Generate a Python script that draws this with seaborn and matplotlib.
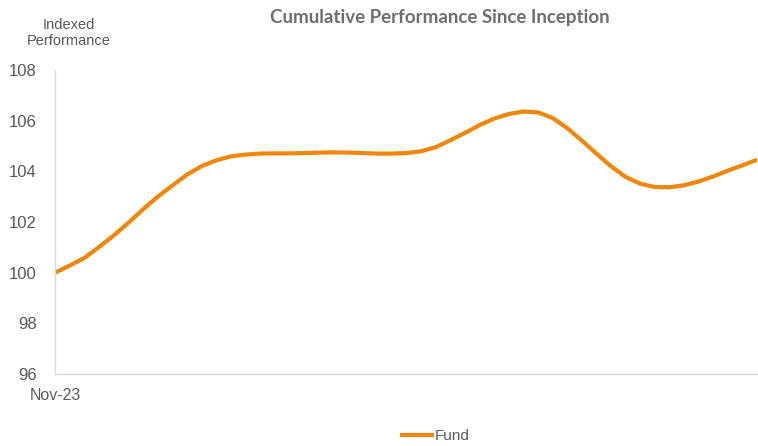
import pandas as pd
import seaborn as sns
import matplotlib.pyplot as plt
import matplotlib.dates as mdates

# Values (roughly weekly, from Nov-23)
dates = pd.date_range('2023-11-01', '2024-11-01', periods=49)
fund = [100.00, 100.28, 100.58, 101.01, 101.46, 101.96, 102.49, 102.99,
        103.43, 103.86, 104.20, 104.43, 104.59, 104.66, 104.70, 104.71,
        104.71, 104.72, 104.74, 104.75, 104.74, 104.72, 104.70, 104.70,
        104.72, 104.79, 104.95, 105.22, 105.51, 105.82, 106.08, 106.26,
        106.36, 106.33, 106.11, 105.71, 105.22, 104.70, 104.20, 103.78,
        103.51, 103.38, 103.37, 103.45, 103.60, 103.80, 104.03, 104.24,
        104.46]
yticks = [96, 98, 100, 102, 104, 106, 108]

df = pd.DataFrame({'date': dates, 'Fund': fund})

sns.set_style('white')
plt.rcParams['font.family'] = ['Liberation Sans', 'DejaVu Sans']

grey = '#595959'
orange = '#F0870A'

fig = plt.figure(figsize=(7.58, 4.46), dpi=100)
ax = fig.add_axes([55 / 758, 1 - 374 / 446, 1 - 55 / 758 - 0.001, (374 - 70) / 446])

sns.lineplot(data=df, x='date', y='Fund', ax=ax, color=orange, linewidth=3,
             label='Fund', legend=False, solid_capstyle='butt',
             solid_joinstyle='round')

ax.set_xlim(dates[0], dates[-1])
ax.set_ylim(96, 108)
ax.set_yticks(yticks)
ax.set_yticklabels([str(t) for t in yticks])
ax.set_xticks([dates[0]])
ax.xaxis.set_major_formatter(mdates.DateFormatter('%b-%y'))
ax.tick_params(axis='y', length=0, pad=13, labelsize=12, labelcolor=grey)
ax.tick_params(axis='x', length=0, pad=10, labelsize=11.5, labelcolor=grey)
ax.set_xlabel('')
ax.set_ylabel('')

for side in ['top', 'right']:
    ax.spines[side].set_visible(False)
for side in ['left', 'bottom']:
    ax.spines[side].set_color('#d9d9d9')
    ax.spines[side].set_linewidth(1)

fig.text(69 / 758, 1 - 33 / 446, 'Indexed\nPerformance', ha='center', va='center',
         fontsize=10.5, color=grey, linespacing=1.15)
fig.text(440 / 758, 1 - 18 / 446, 'Cumulative Performance Since Inception',
         ha='center', va='center', fontsize=13.5, fontweight='bold', color='#6e6e6e',
         family=['Lato', 'DejaVu Sans'])

handles, labels = ax.get_legend_handles_labels()
fig.legend(handles, labels, loc='center', bbox_to_anchor=(435 / 758, 1 - 436 / 446),
           frameon=False, fontsize=11, labelcolor=grey, handlelength=2.2,
           handletextpad=0.1)

fig.savefig('out.png', dpi=100)
